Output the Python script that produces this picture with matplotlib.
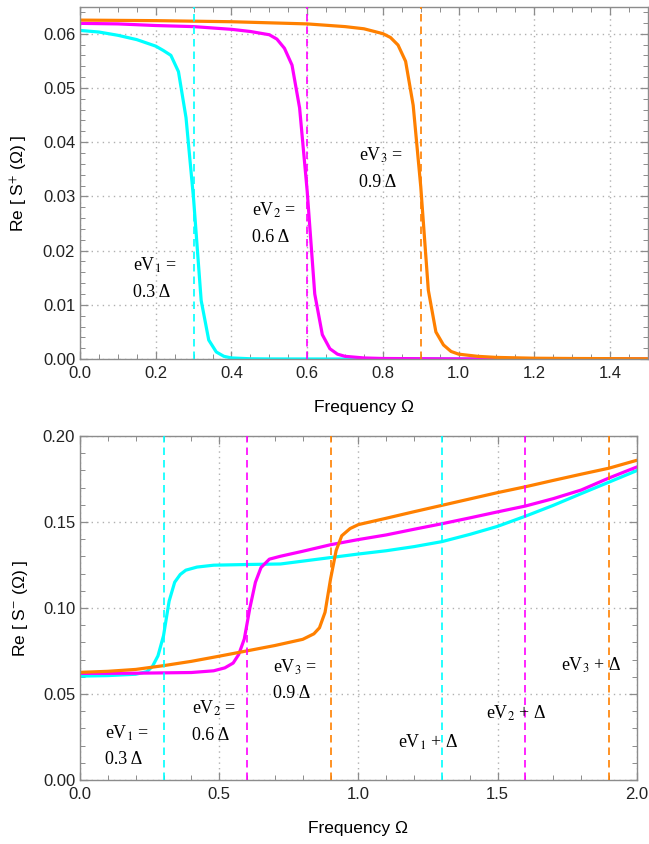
import numpy as np
import matplotlib
matplotlib.use('Agg')
import matplotlib.pyplot as plt
from matplotlib.ticker import MultipleLocator, FormatStrFormatter

plt.rcParams['font.family'] = ['Liberation Sans', 'DejaVu Sans']
plt.rcParams['mathtext.fontset'] = 'stix'

# colours of the three bias voltages
c_cyan = '#00ffff'
c_mag = '#ff00ff'
c_orng = '#ff8000'

# --- top panel: Re S+ ---
om_p1 = [0, 0.05, 0.1, 0.15, 0.2, 0.22, 0.24, 0.26, 0.28, 0.30, 0.32, 0.34, 0.36, 0.38, 0.40, 0.45, 0.5, 0.6, 0.8, 1.0, 1.5]
sp1 = [0.0606, 0.0603, 0.0597, 0.0589, 0.0577, 0.0569, 0.0560, 0.0530, 0.0445, 0.0295, 0.0108, 0.0035, 0.0013, 0.0005, 0.0002, 0.00005, 0.00002, 0.00001, 0, 0, 0]

om_p2 = [0, 0.1, 0.2, 0.3, 0.4, 0.45, 0.5, 0.52, 0.54, 0.56, 0.58, 0.60, 0.62, 0.64, 0.66, 0.68, 0.70, 0.75, 0.8, 1.0, 1.5]
sp2 = [0.0619, 0.0618, 0.0615, 0.0613, 0.0608, 0.0604, 0.0598, 0.0590, 0.0573, 0.0542, 0.0463, 0.0310, 0.0120, 0.0045, 0.0019, 0.0009, 0.0005, 0.0002, 0.0001, 0.00003, 0]

om_p3 = [0, 0.2, 0.4, 0.6, 0.7, 0.75, 0.8, 0.82, 0.84, 0.86, 0.88, 0.90, 0.92, 0.94, 0.96, 0.98, 1.0, 1.05, 1.1, 1.2, 1.3, 1.5]
sp3 = [0.0625, 0.0624, 0.0622, 0.0618, 0.0613, 0.0609, 0.0600, 0.0593, 0.0579, 0.0549, 0.0468, 0.0318, 0.0127, 0.0050, 0.0026, 0.0014, 0.0009, 0.0005, 0.0003, 0.00015, 0.0001, 0.00005]

# --- bottom panel: Re S- ---
om_m1 = [0, 0.1, 0.2, 0.24, 0.26, 0.28, 0.30, 0.32, 0.34, 0.36, 0.38, 0.42, 0.48, 0.6, 0.72, 0.86, 1.0, 1.1, 1.2, 1.3, 1.4, 1.5, 1.6, 1.7, 1.8, 1.9, 2.0]
sm1 = [0.0604, 0.0607, 0.0615, 0.0630, 0.0660, 0.0722, 0.0840, 0.1040, 0.1150, 0.1195, 0.1220, 0.1238, 0.1249, 0.1253, 0.1256, 0.1285, 0.1314, 0.1333, 0.1357, 0.1386, 0.1428, 0.1475, 0.1534, 0.1597, 0.1665, 0.1732, 0.1799]

om_m2 = [0, 0.2, 0.4, 0.48, 0.52, 0.55, 0.57, 0.59, 0.61, 0.63, 0.65, 0.68, 0.72, 0.8, 0.9, 1.0, 1.1, 1.2, 1.3, 1.4, 1.5, 1.6, 1.7, 1.8, 1.9, 2.0]
sm2 = [0.0620, 0.0621, 0.0625, 0.0635, 0.0652, 0.0680, 0.0730, 0.0820, 0.1000, 0.1150, 0.1235, 0.1284, 0.1301, 0.1330, 0.1368, 0.1398, 0.1425, 0.1458, 0.1490, 0.1524, 0.1559, 0.1593, 0.1636, 0.1686, 0.1756, 0.1820]

om_m3 = [0, 0.1, 0.2, 0.3, 0.4, 0.5, 0.6, 0.7, 0.8, 0.84, 0.86, 0.88, 0.90, 0.92, 0.94, 0.97, 1.0, 1.1, 1.2, 1.3, 1.4, 1.5, 1.6, 1.7, 1.8, 1.9, 2.0]
sm3 = [0.0626, 0.0632, 0.0643, 0.0665, 0.0690, 0.0720, 0.0751, 0.0782, 0.0818, 0.0850, 0.0885, 0.0975, 0.1170, 0.1335, 0.1420, 0.1462, 0.1485, 0.1522, 0.1560, 0.1597, 0.1634, 0.1671, 0.1705, 0.1742, 0.1778, 0.1813, 0.1859]

eV = [0.3, 0.6, 0.9]
eV_plus = [1.3, 1.6, 1.9]
cols = [c_cyan, c_mag, c_orng]

frame_col = '#8c8c8c'
grid_col = '#b0b0b0'


def style_axes(ax, xmaj, xmin, ymaj, ymin, xfmt, yfmt):
    ax.xaxis.set_major_locator(MultipleLocator(xmaj))
    ax.xaxis.set_minor_locator(MultipleLocator(xmin))
    ax.yaxis.set_major_locator(MultipleLocator(ymaj))
    ax.yaxis.set_minor_locator(MultipleLocator(ymin))
    ax.xaxis.set_major_formatter(FormatStrFormatter(xfmt))
    ax.yaxis.set_major_formatter(FormatStrFormatter(yfmt))
    ax.tick_params(which='both', direction='in', top=True, right=True,
                   color=frame_col, labelsize=12, labelcolor='#222222')
    ax.tick_params(axis='x', which='both', pad=5)
    ax.tick_params(axis='y', which='both', pad=3.5)
    ax.tick_params(which='major', length=6, width=0.9)
    ax.tick_params(which='minor', length=3.5, width=0.7)
    for sp in ax.spines.values():
        sp.set_color(frame_col)
        sp.set_linewidth(1.0)
    ax.grid(True, which='major', linestyle=(0, (1, 3)), color=grid_col, linewidth=1.0)


fig = plt.figure(figsize=(6.49, 8.44), dpi=100)
ax1 = fig.add_axes([0.1233, 0.5746, 0.875, 0.417])
ax2 = fig.add_axes([0.1233, 0.0758, 0.858, 0.4076])

# top
for x, c in zip(eV, cols):
    ax1.axvline(x, color=c, linestyle=(0, (4.5, 3)), linewidth=1.2, zorder=3)
ax1.plot(om_p1, sp1, color=c_cyan, linewidth=2.3, zorder=2)
ax1.plot(om_p2, sp2, color=c_mag, linewidth=2.3, zorder=2)
ax1.plot(om_p3, sp3, color=c_orng, linewidth=2.3, zorder=2)
ax1.set_xlim(0, 1.5)
ax1.set_ylim(0, 0.0649)
style_axes(ax1, 0.2, 0.05, 0.01, 0.002, '%.1f', '%.2f')
ax1.set_xlabel('Frequency Ω', fontsize=12.5, labelpad=14)
ax1.set_ylabel('Re [ S$^{+}$ (Ω) ]', fontsize=12.5, labelpad=9)

serif = dict(family=['Liberation Serif', 'DejaVu Serif'], fontsize=13, va='center', ha='left')
ax1.text(0.14, 0.0173, 'eV$_1$ =', **serif)
ax1.text(0.14, 0.0123, '0.3 Δ', **serif)
ax1.text(0.454, 0.0275, 'eV$_2$ =', **serif)
ax1.text(0.454, 0.0225, '0.6 Δ', **serif)
ax1.text(0.737, 0.0376, 'eV$_3$ =', **serif)
ax1.text(0.737, 0.0326, '0.9 Δ', **serif)

# bottom
for x, c in zip(eV + eV_plus, cols + cols):
    ax2.axvline(x, color=c, linestyle=(0, (4.5, 3)), linewidth=1.2, zorder=3)
ax2.plot(om_m1, sm1, color=c_cyan, linewidth=2.3, zorder=2)
ax2.plot(om_m2, sm2, color=c_mag, linewidth=2.3, zorder=2)
ax2.plot(om_m3, sm3, color=c_orng, linewidth=2.3, zorder=2)
ax2.set_xlim(0, 2.0)
ax2.set_ylim(0, 0.2)
style_axes(ax2, 0.5, 0.1, 0.05, 0.01, '%.1f', '%.2f')
ax2.set_xlabel('Frequency Ω', fontsize=12.5, labelpad=14)
ax2.set_ylabel('Re [ S$^{-}$ (Ω) ]', fontsize=12.5, labelpad=9)

ax2.text(0.09, 0.0273, 'eV$_1$ =', **serif)
ax2.text(0.09, 0.0122, '0.3 Δ', **serif)
ax2.text(0.402, 0.0418, 'eV$_2$ =', **serif)
ax2.text(0.402, 0.0261, '0.6 Δ', **serif)
ax2.text(0.693, 0.0656, 'eV$_3$ =', **serif)
ax2.text(0.693, 0.0505, '0.9 Δ', **serif)
ax2.text(1.142, 0.0221, 'eV$_1$ + Δ', **serif)
ax2.text(1.458, 0.0389, 'eV$_2$ + Δ', **serif)
ax2.text(1.728, 0.0668, 'eV$_3$ + Δ', **serif)

fig.savefig('out.png', dpi=100)
